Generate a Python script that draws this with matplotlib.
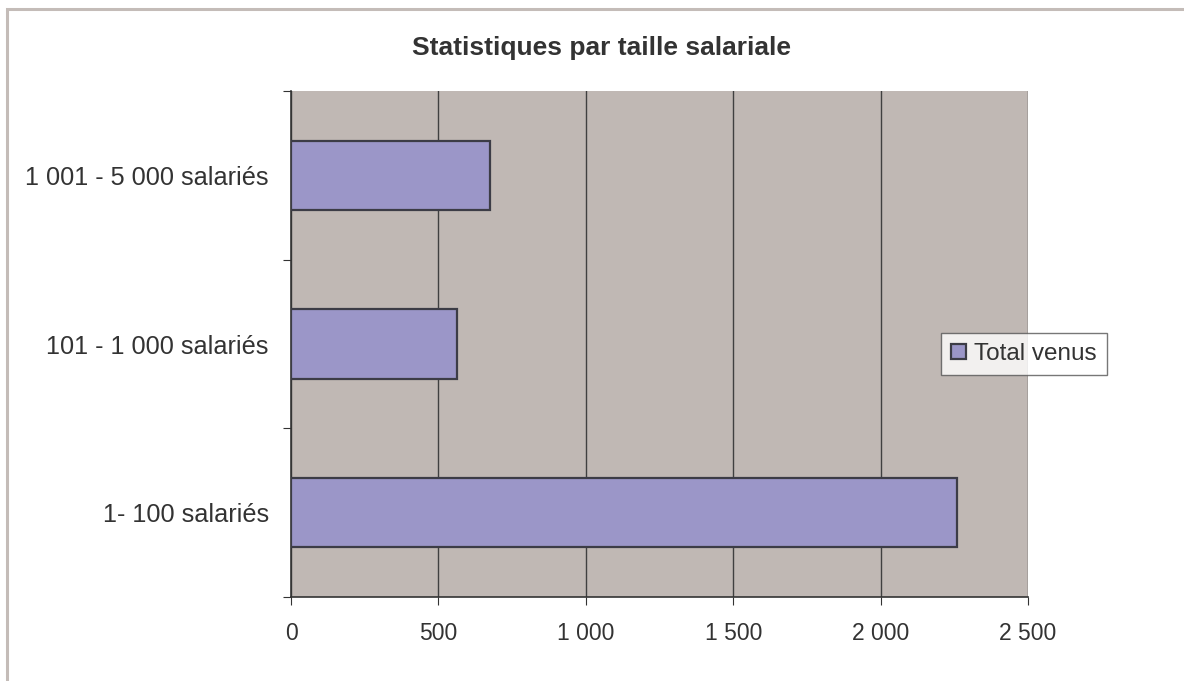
import matplotlib.pyplot as plt
from matplotlib.patches import Rectangle
from matplotlib.ticker import FuncFormatter

plt.rcParams['font.family'] = ['Liberation Sans', 'DejaVu Sans']

# data
categories = ['1- 100 salariés', '101 - 1 000 salariés', '1 001 - 5 000 salariés']
total_venus = [2260, 562, 676]

W, H = 1184, 681
fig = plt.figure(figsize=(W / 100, H / 100), dpi=100)
fig.patch.set_facecolor('white')

# outer frame (top and left only visible)
fig.patches.append(Rectangle((7 / W, -0.1), 1.2, 1 - 9 / H + 0.1, transform=fig.transFigure,
                             fill=False, edgecolor='#c4bcb8', linewidth=2.2))

ax = fig.add_axes([291 / W, 1 - 597 / H, (1028 - 291) / W, (597 - 91) / H])
ax.set_facecolor('#c0b8b4')

ax.barh(range(len(categories)), total_venus, height=0.41, color='#9b96c8',
        edgecolor='#3c3c46', linewidth=1.6, label='Total venus', zorder=3)

ax.set_xlim(0, 2500)
ax.set_ylim(-0.5, len(categories) - 0.5)
ax.set_xticks(range(0, 2501, 500))
ax.xaxis.set_major_formatter(FuncFormatter(lambda v, p: '{:,}'.format(int(v)).replace(',', '\u00a0')))
ax.set_yticks([i - 0.5 for i in range(len(categories) + 1)])
ax.set_yticks(range(len(categories)), minor=True)
ax.set_yticklabels([])
ax.set_yticklabels(categories, minor=True)
ax.tick_params(axis='y', which='minor', length=0, pad=16, labelsize=18.2, labelcolor='#333333')
ax.tick_params(axis='y', which='major', length=6, color='#333333')
ax.tick_params(axis='x', length=6, color='#333333', pad=12, labelsize=16.5, labelcolor='#333333')

ax.grid(axis='x', color='#404040', linewidth=1, zorder=1)
for side in ['top', 'right']:
    ax.spines[side].set_visible(False)
ax.spines['left'].set_color('#333333')
ax.spines['bottom'].set_color('#333333')
ax.spines['left'].set_linewidth(1.2)
ax.spines['bottom'].set_linewidth(1.2)

fig.text(602 / W, 1 - 48 / H, 'Statistiques par taille salariale', ha='center', va='center',
         fontsize=19, fontweight='bold', color='#333333')

leg = fig.legend(loc='center', bbox_to_anchor=(1024 / W, 1 - 354 / H), fontsize=17.5,
                 frameon=True, fancybox=False, edgecolor='#555555', handlelength=0.6,
                 handleheight=0.6, handletextpad=0.35, borderpad=0.4, borderaxespad=0,
                 labelcolor='#333333')
leg.get_frame().set_linewidth(1)

fig.savefig('out.png', dpi=100)
